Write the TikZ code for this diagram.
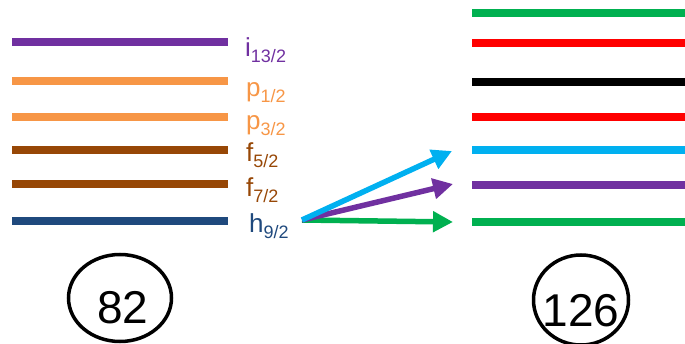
\documentclass[tikz,border=0pt]{standalone}
\usepackage{fontspec}
\setmainfont{Liberation Sans}
\usetikzlibrary{arrows.meta,shapes.geometric}
\definecolor{cpurple}{HTML}{7030A0}
\definecolor{corange}{HTML}{F79646}
\definecolor{cbrown}{HTML}{974706}
\definecolor{cnavy}{HTML}{1F497D}
\definecolor{cgreen}{HTML}{00B050}
\definecolor{cred}{HTML}{FF0000}
\definecolor{ccyan}{HTML}{00B0F0}
\newcommand{\lvlabel}[2]{{\fontsize{26}{26}\selectfont #1}\raisebox{-6pt}{\fontsize{18}{18}\selectfont #2}}
\begin{document}
\begin{tikzpicture}[x=1pt,y=-1pt,
  level/.style={line width=7.5pt},
  lab/.style={anchor=base west,inner sep=0pt},
  shell/.style={draw,line width=3.5pt,ellipse,inner sep=0pt},
  num/.style={inner sep=0pt,font=\fontsize{46}{46}\selectfont},
  jump/.style={line width=5.5pt,-{Triangle[length=20pt,width=20pt]},shorten >=0pt}]
\useasboundingbox (0,0) rectangle (685,344);
% left levels
\draw[level,cpurple] (12,42) -- (228,42);
\draw[level,corange] (12,81) -- (228,81);
\draw[level,corange] (12,117) -- (228,117);
\draw[level,cbrown] (12,150) -- (228,150);
\draw[level,cbrown] (12,184) -- (228,184);
\draw[level,cnavy] (12,221) -- (228,221);
% labels
\node[lab,text=cpurple] (li) at (245,57) {\lvlabel{i}{13/2}};
\node[lab,text=corange] (lp1) at (246,97) {\lvlabel{p}{1/2}};
\node[lab,text=corange] (lp3) at (246,130) {\lvlabel{p}{3/2}};
\node[lab,text=cbrown] (lf5) at (246,162) {\lvlabel{f}{5/2}};
\node[lab,text=cbrown] (lf7) at (246,197) {\lvlabel{f}{7/2}};
\node[lab,text=cnavy] (lh) at (249,233) {\lvlabel{h}{9/2}};
% right levels
\draw[level,cgreen] (472,13) -- (685,13);
\draw[level,cred] (472,43) -- (685,43);
\draw[level,black] (472,82) -- (685,82);
\draw[level,cred] (472,117) -- (685,117);
\draw[level,ccyan] (472,150) -- (685,150);
\draw[level,cpurple] (472,185) -- (685,185);
\draw[level,cgreen] (472,222) -- (685,222);
% arrows
\coordinate (s) at (302,220);
\coordinate (tc) at (452,151);
\coordinate (tp) at (453,184);
\coordinate (tg) at (453,222);
\draw[jump,cgreen] (s) -- (tg);
\draw[jump,cpurple] (s) -- (tp);
\draw[jump,ccyan] (s) -- (tc);
% magic numbers
\node[shell,minimum width=103pt,minimum height=87pt] (c82) at (120,298) {};
\node[num] (n82) at (123,308) {82};
\node[shell,minimum width=95pt,minimum height=90pt] (c126) at (581,300) {};
\node[num] (n126) at (581,311) {126};
\end{tikzpicture}
\end{document}
